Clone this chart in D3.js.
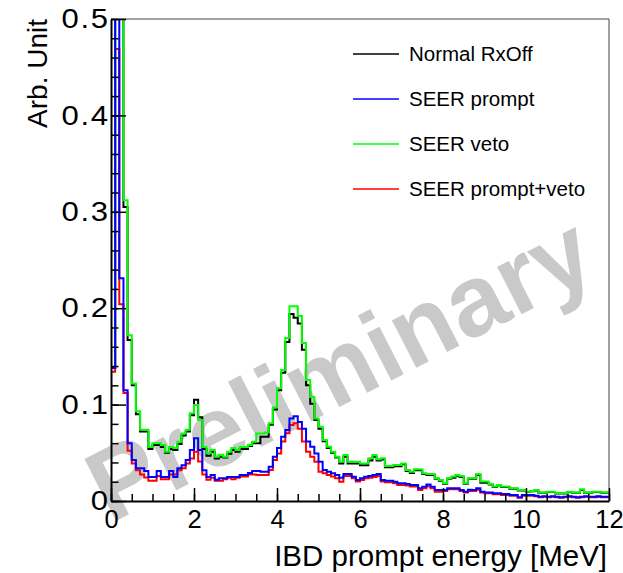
<!DOCTYPE html>
<html>
<head>
<meta charset="utf-8">
<script src="https://cdn.jsdelivr.net/npm/d3@7"></script>
<style>
  body { margin: 0; background: #fff; }
  svg { display: block; }
  text { font-family: "Liberation Sans", Arial, Helvetica, sans-serif; }
</style>
</head>
<body>
<svg id="chart" width="623" height="573"></svg>
<script>
// histogram binning (MeV)
const binLow = 0;
const binWidth = 0.1;

// bin contents, 120 bins from 0 to 12 MeV
const normalRxOff = [
  0.138, 1.0, 1.0, 0.305, 0.167, 0.120, 0.090, 0.072, 0.072, 0.054,
  0.058, 0.058, 0.056, 0.050, 0.054, 0.053, 0.059, 0.068, 0.072, 0.089,
  0.105, 0.087, 0.054, 0.047, 0.051, 0.044, 0.046, 0.045, 0.049, 0.053,
  0.051, 0.054, 0.054, 0.057, 0.060, 0.060, 0.0667, 0.0667, 0.079, 0.095,
  0.115, 0.133, 0.165, 0.194, 0.190, 0.184, 0.157, 0.120, 0.101, 0.084,
  0.075, 0.062, 0.055, 0.050, 0.045, 0.039, 0.046, 0.039, 0.039, 0.039,
  0.037, 0.037, 0.042, 0.046, 0.042, 0.043, 0.035, 0.035, 0.036, 0.036,
  0.038, 0.031, 0.029, 0.032, 0.032, 0.028, 0.027, 0.027, 0.023, 0.021,
  0.018, 0.023, 0.024, 0.026, 0.025, 0.018, 0.023, 0.023, 0.027, 0.019,
  0.019, 0.017, 0.0145, 0.016, 0.0145, 0.0145, 0.0127, 0.0127, 0.011, 0.011,
  0.0094, 0.0102, 0.011, 0.0085, 0.0085, 0.0094, 0.0094, 0.0078, 0.0078, 0.0078,
  0.0094, 0.0085, 0.0085, 0.0115, 0.0085, 0.0085, 0.0094, 0.0094, 0.0085, 0.0085
];
const seerPrompt = [
  0.138, 1.0, 0.231, 0.115, 0.060, 0.0425, 0.034, 0.034, 0.031, 0.025,
  0.025, 0.031, 0.025, 0.025, 0.031, 0.025, 0.034, 0.037, 0.0425, 0.053,
  0.065, 0.053, 0.032, 0.025, 0.027, 0.022, 0.0235, 0.0235, 0.025, 0.025,
  0.025, 0.027, 0.027, 0.029, 0.031, 0.031, 0.0304, 0.0304, 0.0355, 0.046,
  0.055, 0.0667, 0.0736, 0.0857, 0.088, 0.082, 0.075, 0.0616, 0.0563, 0.0494,
  0.0408, 0.0322, 0.0304, 0.0287, 0.027, 0.024, 0.028, 0.028, 0.0252, 0.0218,
  0.0235, 0.0252, 0.0259, 0.027, 0.028, 0.0218, 0.0211, 0.0211, 0.020, 0.0183,
  0.0183, 0.0176, 0.0166, 0.0166, 0.0131, 0.0148, 0.017, 0.0148, 0.0114, 0.0114,
  0.0114, 0.0131, 0.0131, 0.0131, 0.0114, 0.0097, 0.0118, 0.0114, 0.0131, 0.0097,
  0.0087, 0.0087, 0.008, 0.008, 0.0073, 0.0073, 0.0062, 0.0062, 0.0038, 0.0062,
  0.0062, 0.0062, 0.0055, 0.0045, 0.005, 0.0045, 0.005, 0.0045, 0.004, 0.0045,
  0.005, 0.0045, 0.004, 0.0045, 0.005, 0.0045, 0.0045, 0.005, 0.0045, 0.0045
];
const seerVeto = [
  0.138, 1.0, 1.0, 0.312, 0.172, 0.122, 0.093, 0.074, 0.074, 0.056,
  0.060, 0.060, 0.058, 0.051, 0.056, 0.055, 0.0615, 0.070, 0.074, 0.091,
  0.0996, 0.084, 0.056, 0.0495, 0.053, 0.046, 0.048, 0.046, 0.051, 0.055,
  0.053, 0.056, 0.056, 0.058, 0.0615, 0.070, 0.070, 0.071, 0.0806, 0.097,
  0.117, 0.136, 0.169, 0.202, 0.202, 0.192, 0.164, 0.1255, 0.108, 0.0857,
  0.077, 0.0633, 0.0563, 0.0512, 0.046, 0.0408, 0.0478, 0.0408, 0.0408, 0.0408,
  0.039, 0.039, 0.0443, 0.0478, 0.0432, 0.0443, 0.0363, 0.0363, 0.0374, 0.0374,
  0.039, 0.0322, 0.0304, 0.0329, 0.0329, 0.0287, 0.028, 0.028, 0.0235, 0.0218,
  0.0183, 0.0235, 0.0253, 0.027, 0.026, 0.0183, 0.0235, 0.0235, 0.028, 0.0201,
  0.0201, 0.0177, 0.015, 0.0166, 0.015, 0.015, 0.0131, 0.0131, 0.0114, 0.0114,
  0.0097, 0.0105, 0.0114, 0.0087, 0.0087, 0.0097, 0.0097, 0.008, 0.008, 0.008,
  0.0097, 0.0087, 0.0087, 0.0121, 0.0087, 0.0087, 0.0097, 0.0097, 0.0087, 0.0087
];
const seerPromptVeto = [
  0.134, 0.469, 0.204, 0.112, 0.052, 0.039, 0.032, 0.0275, 0.0245, 0.021,
  0.021, 0.026, 0.0225, 0.0225, 0.0275, 0.0275, 0.032, 0.034, 0.039, 0.044,
  0.051, 0.041, 0.0275, 0.022, 0.024, 0.021, 0.021, 0.0225, 0.024, 0.0225,
  0.024, 0.0255, 0.0255, 0.0275, 0.0275, 0.027, 0.027, 0.027, 0.0322, 0.0425,
  0.0494, 0.0616, 0.0703, 0.0788, 0.0806, 0.075, 0.0616, 0.0512, 0.046, 0.0408,
  0.0304, 0.0287, 0.027, 0.0253, 0.0235, 0.020, 0.026, 0.026, 0.0235, 0.0201,
  0.0218, 0.0235, 0.024, 0.025, 0.026, 0.0201, 0.0194, 0.0194, 0.0183, 0.0166,
  0.0166, 0.016, 0.015, 0.015, 0.0114, 0.0131, 0.0153, 0.0131, 0.0097, 0.0097,
  0.0104, 0.0121, 0.0121, 0.0121, 0.0104, 0.0087, 0.0104, 0.0104, 0.0118, 0.0087,
  0.008, 0.008, 0.007, 0.007, 0.0062, 0.0062, 0.0055, 0.0055, 0.0035, 0.0055,
  0.0055, 0.0055, 0.005, 0.004, 0.0045, 0.004, 0.0045, 0.004, 0.0035, 0.004,
  0.0045, 0.004, 0.0035, 0.004, 0.0045, 0.004, 0.004, 0.0045, 0.004, 0.004
];

const legendLabels = ['Normal RxOff', 'SEER prompt', 'SEER veto', 'SEER prompt+veto'];
const xTicks = [0, 2, 4, 6, 8, 10, 12];
const yTicks = [0, 0.1, 0.2, 0.3, 0.4, 0.5];
const xTitle = 'IBD prompt energy [MeV]';
const yTitle = 'Arb. Unit';
const watermark = 'Preliminary';

const svg = d3.select('#chart');
const m = {left: 111, right: 609, top: 19, bottom: 501};

const x = d3.scaleLinear().domain([0, 12]).range([m.left, m.right]);
const y = d3.scaleLinear().domain([0, 0.5]).range([m.bottom, m.top]);

// watermark behind everything
svg.append('text')
  .attr('transform', 'translate(110,524) rotate(-27)')
  .attr('font-size', 101)
  .attr('font-weight', 'bold')
  .attr('fill', '#c9c9c9')
  .text(watermark);

const defs = svg.append('defs');
defs.append('clipPath').attr('id', 'plotClip')
  .append('rect')
  .attr('x', m.left).attr('y', m.top)
  .attr('width', m.right - m.left).attr('height', m.bottom - m.top);

// drawing order: red under black under green under blue
const series = [
  {label: legendLabels[3], values: seerPromptVeto, color: '#ff0000'},
  {label: legendLabels[0], values: normalRxOff, color: '#000000'},
  {label: legendLabels[2], values: seerVeto, color: '#00ff00'},
  {label: legendLabels[1], values: seerPrompt, color: '#0000ff'}
];

const line = d3.line()
  .x(d => x(d.e))
  .y(d => y(d.v))
  .curve(d3.curveStepAfter);

const plot = svg.append('g').attr('clip-path', 'url(#plotClip)');
series.forEach(s => {
  const pts = s.values.map((v, i) => ({e: binLow + i * binWidth, v}));
  pts.push({e: binLow + s.values.length * binWidth, v: s.values[s.values.length - 1]});
  plot.append('path')
    .attr('d', line(pts))
    .attr('fill', 'none')
    .attr('stroke', s.color)
    .attr('stroke-width', 2);
});

// frame (top and right)
svg.append('path')
  .attr('d', `M${m.left},${m.top}H${m.right}V${m.bottom}`)
  .attr('fill', 'none')
  .attr('stroke', '#444')
  .attr('stroke-width', 1);

// x axis, ticks pointing inside
const xMinor = svg.append('g')
  .attr('transform', `translate(0,${m.bottom})`)
  .call(d3.axisBottom(x).ticks(24).tickSize(-7).tickSizeOuter(0).tickFormat(''));
xMinor.select('.domain').remove();

const xAxis = svg.append('g')
  .attr('transform', `translate(0,${m.bottom})`)
  .call(d3.axisBottom(x).tickValues(xTicks).tickSize(-13).tickSizeOuter(0)
    .tickPadding(9).tickFormat(d3.format('d')));

const yMinor = svg.append('g')
  .attr('transform', `translate(${m.left},0)`)
  .call(d3.axisLeft(y).ticks(25).tickSize(-7.5).tickSizeOuter(0).tickFormat(''));
yMinor.select('.domain').remove();

const yAxis = svg.append('g')
  .attr('transform', `translate(${m.left},0)`)
  .call(d3.axisLeft(y).tickValues(yTicks).tickSize(-15).tickSizeOuter(0)
    .tickFormat(d => d === 0 ? '0' : d3.format('.1f')(d)));

[xAxis, yAxis].forEach(g => {
  g.select('.domain').attr('stroke', '#000').attr('stroke-width', 2);
  g.selectAll('text').attr('fill', '#000')
    .attr('font-family', '"Liberation Sans", Arial, Helvetica, sans-serif');
});
xAxis.selectAll('text').attr('font-size', 25.5);
// y labels are drawn slightly wide, as in the original
yAxis.selectAll('text')
  .attr('font-size', 27)
  .attr('letter-spacing', 1.5)
  .attr('x', -1)
  .attr('transform', 'scale(1.15,1)');
[xMinor, yMinor, xAxis, yAxis].forEach(g => {
  g.selectAll('.tick line').attr('stroke', '#000').attr('stroke-width', 1.5);
});

// axis titles
svg.append('text')
  .attr('x', 607).attr('y', 566)
  .attr('text-anchor', 'end')
  .attr('font-size', 29.5)
  .text(xTitle);

svg.append('text')
  .attr('transform', 'translate(47,19) rotate(-90)')
  .attr('text-anchor', 'end')
  .attr('font-size', 28)
  .text(yTitle);

// legend (no border)
const legendY = d3.scalePoint().domain(legendLabels).range([54, 189]);
const legendColor = d3.scaleOrdinal().domain(legendLabels)
  .range(['#000000', '#0000ff', '#00ff00', '#ff0000']);
const lg = svg.append('g').selectAll('g').data(legendLabels).join('g')
  .attr('transform', d => `translate(0,${legendY(d)})`);
lg.append('line')
  .attr('x1', 353).attr('x2', 399)
  .attr('stroke', d => legendColor(d))
  .attr('stroke-width', 1.5);
lg.append('text')
  .attr('x', 409).attr('dy', '0.36em')
  .attr('font-size', 20.5)
  .text(d => d);
</script>
</body>
</html>
